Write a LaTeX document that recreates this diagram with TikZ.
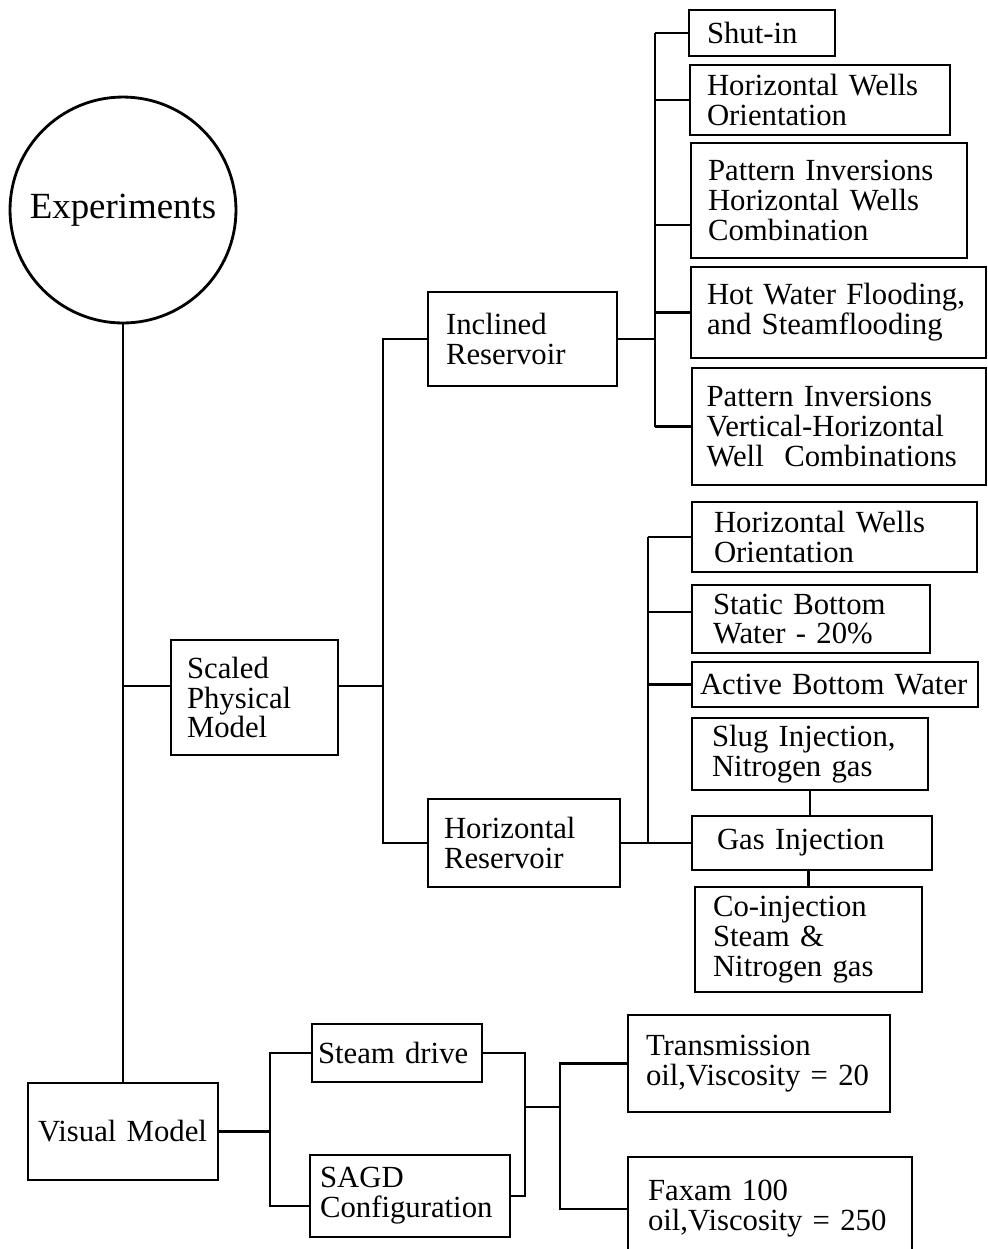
\documentclass[tikz,border=0pt]{standalone}
\usepackage{fontspec}
\setmainfont{Liberation Serif}
\usepackage{tikz}
\usetikzlibrary{calc}

\newcommand{\boxfont}{\fontsize{17.5}{17}\selectfont\hyphenpenalty=10000\exhyphenpenalty=10000}

\begin{document}
\begin{tikzpicture}[x=0.02cm, y=-0.02cm]

% Styles
\tikzset{
  box/.style={draw, line width=1.6pt, rectangle, align=left, inner ysep=0pt, font=\boxfont},
  link/.style={line width=1.5pt}
}

\useasboundingbox (0,0) rectangle (988,1249);

% Root
\node[draw, circle, line width=1.6pt, minimum size=4.52cm, inner sep=0pt,
      font=\fontsize{21}{24}\selectfont] (exper) at (123,210) {Experiments};

% Models
\node[box, text width=2.7cm, inner xsep=0.32cm, minimum height=2.3cm] (spm) at (254.5,697.5)
  {Scaled\\Physical\\Model};
\node[box, text width=3.4cm, inner xsep=0.2cm, minimum height=1.94cm] (vm) at (123,1131.5)
  {Visual Model};

% Reservoirs
\node[box, text width=3.06cm, inner xsep=0.36cm, minimum height=1.88cm] (inc) at (522.5,339)
  {Inclined\\Reservoir};
\node[box, text width=3.2cm, inner xsep=0.32cm, minimum height=1.76cm] (hor) at (524,843)
  {Horizontal\\Reservoir};

% Inclined reservoir runs
\node[box, text width=2.2cm, inner xsep=0.36cm, minimum height=0.92cm] (shut) at (762,33)
  {Shut-in};
\node[box, text width=4.52cm, inner xsep=0.34cm, minimum height=1.4cm] (hwoA) at (820,100)
  {Horizontal Wells\\Orientation};
\node[box, text width=4.84cm, inner xsep=0.34cm, minimum height=2.3cm] (pihw) at (829,200.5)
  {Pattern Inversions\\Horizontal Wells\\Combination};
\node[box, text width=5.26cm, inner xsep=0.32cm, minimum height=1.82cm] (hot) at (838.5,312.5)
  {Hot Water Flooding,\\and Steamflooding};
\node[box, text width=5.3cm, inner xsep=0.29cm, minimum height=2.34cm] (pivh) at (839,426.5)
  {Pattern Inversions\\Vertical-Horizontal\\Well\ \ Combinations};

% Horizontal reservoir runs
\node[box, text width=4.82cm, inner xsep=0.44cm, minimum height=1.4cm] (hwoB) at (834.5,537)
  {Horizontal Wells\\Orientation};
\node[box, text width=3.92cm, inner xsep=0.42cm, minimum height=1.36cm] (static) at (811,619)
  {Static Bottom\\Water - 20\%};
\node[box, text width=5.4cm, inner xsep=0.16cm, minimum height=0.9cm] (active) at (835,684.5)
  {Active Bottom Water};
\node[box, text width=3.92cm, inner xsep=0.4cm, minimum height=1.44cm] (slug) at (810,754)
  {Slug Injection,\\Nitrogen gas};
\node[box, text width=3.8cm, inner xsep=0.5cm, minimum height=1.08cm] (gas) at (812,843)
  {Gas Injection};
\node[box, text width=3.82cm, inner xsep=0.36cm, minimum height=2.1cm] (coinj) at (808.5,939.5)
  {Co-injection\\Steam \&\\Nitrogen gas};

% Visual model runs
\node[box, text width=3.16cm, inner xsep=0.12cm, minimum height=1.16cm] (steam) at (397,1053)
  {Steam drive};
\node[box, text width=3.6cm, inner xsep=0.2cm, minimum height=1.64cm] (sagd) at (410,1196)
  {SAGD\\Configuration};
\node[box, text width=4.52cm, inner xsep=0.36cm, minimum height=1.94cm] (trans) at (759,1063.5)
  {Transmission\\oil,Viscosity = 20};
\node[box, text width=4.88cm, inner xsep=0.4cm, minimum height=2.08cm] (faxam) at (770,1209)
  {Faxam 100\\oil,Viscosity = 250};

% Coordinates
\coordinate (jspm) at (123,686);
\coordinate (brA) at (383,686);
\coordinate (brB) at (655,339);
\coordinate (brC) at (648,843);
\coordinate (brD) at (270,1131.5);
\coordinate (brE) at (525,1107);
\coordinate (brF) at (560,1107);

% Trunk
\draw[link] (exper.south) -- (vm.north);
\draw[link] (jspm) -- (jspm -| spm.west);

% Scaled physical model
\draw[link] (spm.east |- brA) -- (brA);
\draw[link] (inc.west) -| (brA) |- (hor.west);

% Inclined reservoir
\draw[link] (inc.east) -- (brB);
\draw[link] (brB |- shut.west) -- (brB |- pivh.west);
\foreach \n in {shut, hwoA, hot, pivh}
  \draw[link] (brB |- \n.west) -- (\n.west);
\draw[link] ([yshift=-0.49cm]pihw.west) -- ++(-36,0);

% Horizontal reservoir
\draw[link] (hor.east) -- (brC);
\draw[link] (brC |- hwoB.west) -- (brC);
\foreach \n in {hwoB, active, gas}
  \draw[link] (brC |- \n.west) -- (\n.west);
\draw[link] ([yshift=0.14cm]static.west) -- ++(-44,0);
\draw[link] (slug.south) -- (slug.south |- gas.north);
\draw[link] (coinj.north) -- (coinj.north |- gas.south);

% Visual model
\draw[link] (vm.east) -- (brD);
\draw[link] (steam.west) -| (brD) |- ([yshift=-0.2cm]sagd.west);
\draw[link] (steam.east) -| (brE) |- (sagd.east);
\draw[link] (brE) -- (brF);
\draw[link] (trans.west) -| (brF) |- (faxam.west);

\end{tikzpicture}
\end{document}
